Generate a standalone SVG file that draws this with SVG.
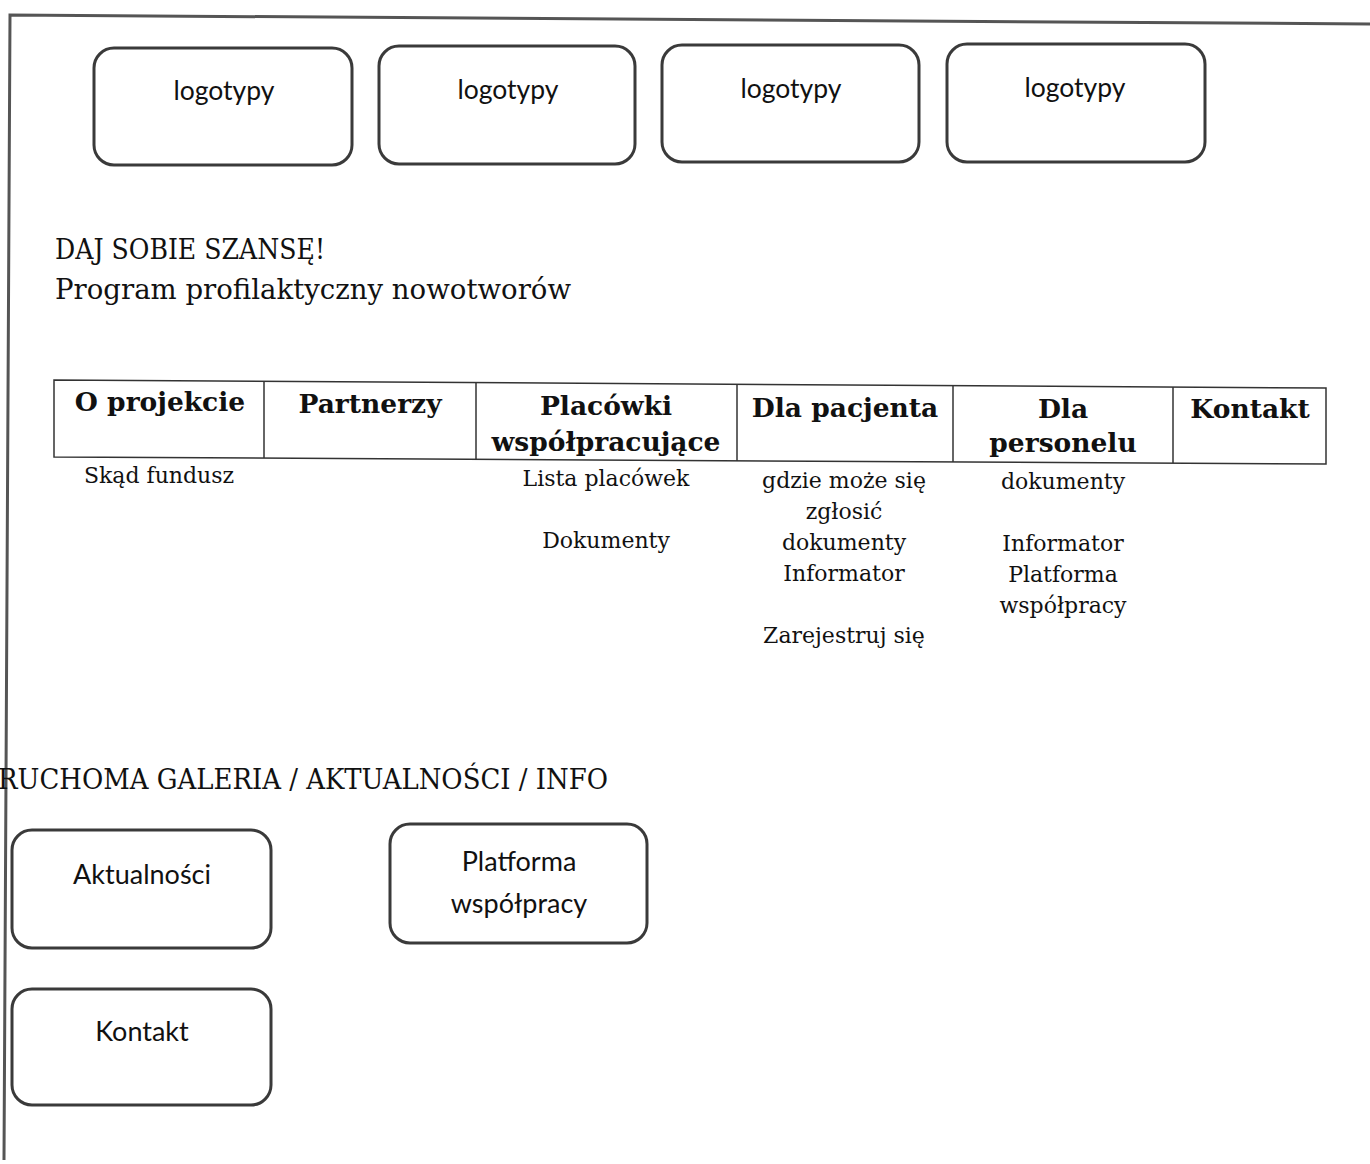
<svg xmlns="http://www.w3.org/2000/svg" width="1370" height="1164" viewBox="0 0 1370 1164">
<style>
.box{fill:none;stroke:#3a3a3a;stroke-width:3}
.frame{fill:none;stroke:#555;stroke-width:3}
.grid{fill:none;stroke:#333;stroke-width:1.5}
.sans{font-family:Lato,"Liberation Sans",sans-serif;fill:#111;text-anchor:middle}
.serif{font-family:"DejaVu Serif","Liberation Serif",serif;fill:#111}
.hd{font-family:"DejaVu Serif","Liberation Serif",serif;font-weight:bold;fill:#111;text-anchor:middle;font-size:26.5px}
.sub{font-family:"DejaVu Serif","Liberation Serif",serif;fill:#111;text-anchor:middle;font-size:22px}
</style>
<rect width="1370" height="1164" fill="#fff"/>
<g id="frame">
<polyline class="frame" points="4,1160 10,15 1370,24"/>
</g>
<g id="logo1"><rect class="box" x="94" y="48" width="258" height="117" rx="20"/><text class="sans" x="224" y="100" font-size="26.5">logotypy</text></g>
<g id="logo2"><rect class="box" x="379" y="46" width="256" height="118" rx="20"/><text class="sans" x="508" y="99" font-size="26.5">logotypy</text></g>
<g id="logo3"><rect class="box" x="662" y="45" width="257" height="117" rx="20"/><text class="sans" x="791" y="98" font-size="26.5">logotypy</text></g>
<g id="logo4"><rect class="box" x="947" y="44" width="258" height="118" rx="20"/><text class="sans" x="1075" y="97" font-size="26.5">logotypy</text></g>
<g id="title">
<text class="serif" x="55" y="259" font-size="28" textLength="270" lengthAdjust="spacingAndGlyphs">DAJ SOBIE SZANSĘ!</text>
<text class="serif" x="55" y="299" font-size="28" textLength="516" lengthAdjust="spacingAndGlyphs">Program profilaktyczny nowotworów</text>
</g>
<g id="nav">
<polygon class="grid" points="54,380 1326,388 1326,464 54,457"/>
<line class="grid" x1="264" y1="381" x2="264" y2="458"/>
<line class="grid" x1="476" y1="383" x2="476" y2="460"/>
<line class="grid" x1="737" y1="384" x2="737" y2="461"/>
<line class="grid" x1="953" y1="386" x2="953" y2="462"/>
<line class="grid" x1="1173" y1="387" x2="1173" y2="463"/>
<text class="hd" x="160" y="411">O projekcie</text>
<text class="hd" x="370" y="413">Partnerzy</text>
<text class="hd" x="606" y="415">Placówki</text>
<text class="hd" x="606" y="451">współpracujące</text>
<text class="hd" x="845" y="417">Dla pacjenta</text>
<text class="hd" x="1063" y="418">Dla</text>
<text class="hd" x="1063" y="452">personelu</text>
<text class="hd" x="1250" y="418">Kontakt</text>
</g>
<g id="sub">
<text class="sub" x="159" y="483">Skąd fundusz</text>
<text class="sub" x="606" y="486">Lista placówek</text>
<text class="sub" x="606" y="548">Dokumenty</text>
<text class="sub" x="844" y="488">gdzie może się</text>
<text class="sub" x="844" y="519">zgłosić</text>
<text class="sub" x="844" y="550">dokumenty</text>
<text class="sub" x="844" y="581">Informator</text>
<text class="sub" x="844" y="643">Zarejestruj się</text>
<text class="sub" x="1063" y="489">dokumenty</text>
<text class="sub" x="1063" y="551">Informator</text>
<text class="sub" x="1063" y="582">Platforma</text>
<text class="sub" x="1063" y="613">współpracy</text>
</g>
<g id="gallery">
<text class="serif" x="-2" y="789" font-size="28" textLength="610" lengthAdjust="spacingAndGlyphs">RUCHOMA GALERIA / AKTUALNOŚCI / INFO</text>
</g>
<g id="aktualnosci"><rect class="box" x="12" y="830" width="259" height="118" rx="20"/><text class="sans" x="142" y="884" font-size="27">Aktualności</text></g>
<g id="platforma"><rect class="box" x="390" y="824" width="257" height="119" rx="20"/><text class="sans" x="519" y="871" font-size="27">Platforma</text><text class="sans" x="519" y="913" font-size="27">współpracy</text></g>
<g id="kontakt"><rect class="box" x="12" y="989" width="259" height="116" rx="20"/><text class="sans" x="142" y="1041" font-size="27">Kontakt</text></g>
</svg>
